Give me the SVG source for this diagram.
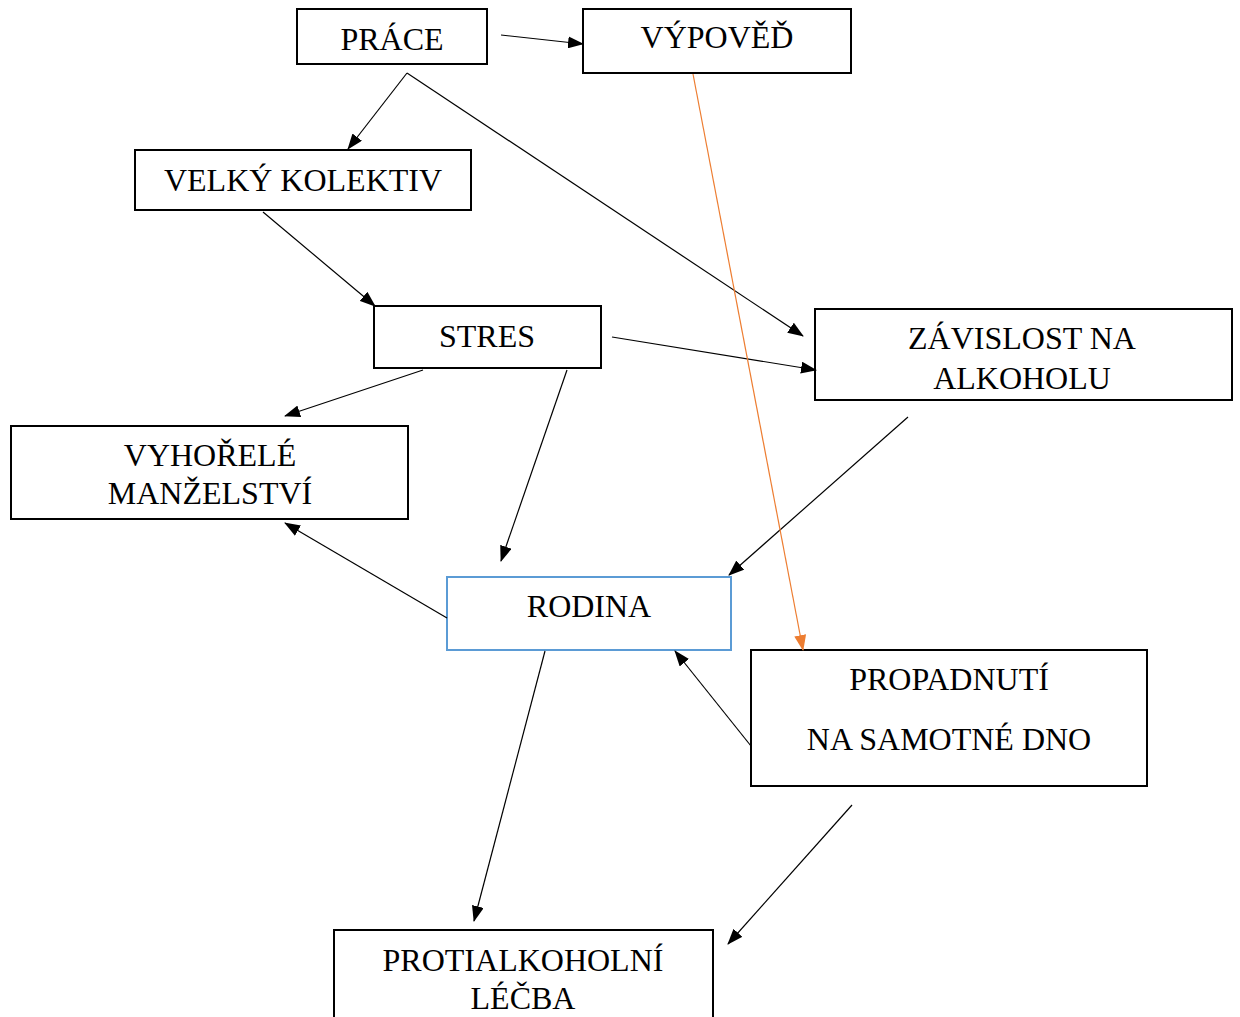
<svg xmlns="http://www.w3.org/2000/svg" width="1240" height="1017" viewBox="0 0 1240 1017">
<style>
.box{fill:#fff;stroke:#000;stroke-width:2}
.blue{fill:#fff;stroke:#5B9BD5;stroke-width:2}
text{font-family:"Liberation Serif","Times New Roman",serif;font-size:32px;fill:#000;text-anchor:middle}
.c{stroke:#000;stroke-width:1.2;fill:none;marker-end:url(#ah)}
.o{stroke:#ED7D31;stroke-width:1.2;fill:none;marker-end:url(#ao)}
</style>
<defs>
<marker id="ah" markerWidth="16" markerHeight="12" refX="15" refY="6" orient="auto" markerUnits="userSpaceOnUse"><path d="M0,0 L16,6 L0,12 z" fill="#000"/></marker>
<marker id="ao" markerWidth="16" markerHeight="12" refX="15" refY="6" orient="auto" markerUnits="userSpaceOnUse"><path d="M0,0 L16,6 L0,12 z" fill="#ED7D31"/></marker>
</defs>
<rect width="1240" height="1017" fill="#fff"/>
<g id="nodes">
<g id="prace"><rect class="box" x="297" y="9" width="190" height="55"/><text x="392" y="50">PRÁCE</text></g>
<g id="vypoved"><rect class="box" x="583" y="9" width="268" height="64"/><text x="717" y="48">VÝPOVĚĎ</text></g>
<g id="kolektiv"><rect class="box" x="135" y="150" width="336" height="60"/><text x="303" y="191">VELKÝ KOLEKTIV</text></g>
<g id="stres"><rect class="box" x="374" y="306" width="227" height="62"/><text x="487" y="347">STRES</text></g>
<g id="zavislost"><rect class="box" x="815" y="309" width="417" height="91"/><text x="1022" y="349">ZÁVISLOST NA</text><text x="1022" y="389">ALKOHOLU</text></g>
<g id="manzelstvi"><rect class="box" x="11" y="426" width="397" height="93"/><text x="210" y="466">VYHOŘELÉ</text><text x="210" y="504">MANŽELSTVÍ</text></g>
<g id="rodina"><rect class="blue" x="447" y="577" width="284" height="73"/><text x="589" y="617">RODINA</text></g>
<g id="propadnuti"><rect class="box" x="751" y="650" width="396" height="136"/><text x="949" y="690">PROPADNUTÍ</text><text x="949" y="750">NA SAMOTNÉ DNO</text></g>
<g id="lecba"><rect class="box" x="334" y="930" width="379" height="100"/><text x="523" y="971">PROTIALKOHOLNÍ</text><text x="523" y="1009">LÉČBA</text></g>
</g>
<g id="connectors">
<line class="c" x1="501" y1="35" x2="583" y2="44"/>
<line class="c" x1="407" y1="73" x2="348" y2="149"/>
<line class="c" x1="407" y1="73" x2="803" y2="336"/>
<line class="c" x1="263" y1="212" x2="375" y2="306"/>
<line class="c" x1="612" y1="337" x2="816" y2="370"/>
<line class="c" x1="423" y1="370" x2="285" y2="416"/>
<line class="c" x1="567" y1="370" x2="501" y2="561"/>
<line class="c" x1="908" y1="417" x2="729" y2="575"/>
<line class="o" x1="693" y1="74" x2="803" y2="650"/>
<line class="c" x1="447" y1="618" x2="285" y2="523"/>
<line class="c" x1="751" y1="746" x2="675" y2="651"/>
<line class="c" x1="545" y1="651" x2="474" y2="921"/>
<line class="c" x1="852" y1="805" x2="728" y2="944"/>
</g>
</svg>
